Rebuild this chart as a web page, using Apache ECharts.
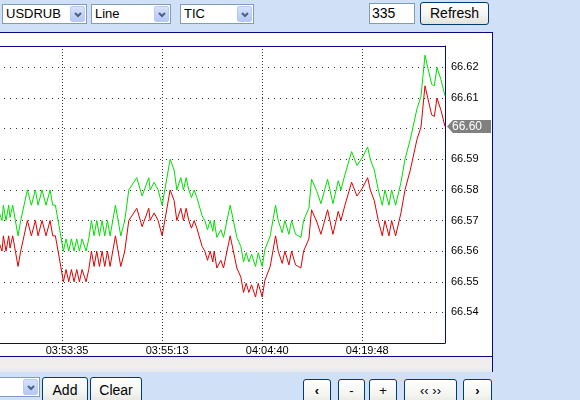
<!DOCTYPE html>
<html>
<head>
<meta charset="utf-8">
<script src="https://cdn.jsdelivr.net/npm/echarts@6/dist/echarts.min.js"></script>
<style>
body{margin:0;width:580px;height:400px;overflow:hidden;background:#cfe0f7;position:relative;font-family:"Liberation Sans",Arial,sans-serif;}
.sel{position:absolute;height:20px;box-sizing:border-box;border:1px solid #7f9db9;background:#fff;font-size:13px;line-height:18px;padding-left:3px;color:#000;}
.sel .arr{position:absolute;right:1px;top:1px;width:15px;height:16px;box-sizing:border-box;border:1px solid #b9cbf5;border-radius:2px;background:linear-gradient(#d6e2fc,#b4c8f6);}
.sel .arr svg{position:absolute;left:3px;top:5px;}
.inp{position:absolute;left:369px;top:3px;width:46px;height:21px;box-sizing:border-box;border:1px solid #7f9db9;background:#fff;font-size:14px;line-height:19px;padding-left:2px;}
.btn{position:absolute;box-sizing:border-box;border:1px solid #003c74;border-radius:3px;background:linear-gradient(#ffffff,#f3f3ef 60%,#e3e2da);font-size:14px;text-align:center;color:#000;}
.panel{position:absolute;left:-8px;top:32px;width:501px;height:325px;box-sizing:border-box;background:#fff;border-top:1px solid #0a0a80;border-right:1px solid #0a0a80;border-bottom:1px solid #0a0a80;}
.strip{position:absolute;left:-8px;top:357px;width:501px;height:15px;box-sizing:border-box;background:linear-gradient(#efebeb,#f0eeee 70%,#e4e8f0);border-right:1px solid #0a0a80;}
#myChart{position:absolute;left:-60px;top:33px;width:551px;height:323px;}
</style>
</head>
<body>
<div class="sel" style="left:2px;top:4px;width:85px;">USDRUB<div class="arr"><svg width="8" height="6"><polyline points="1,1 4,4 7,1" fill="none" stroke="#4d6185" stroke-width="2"/></svg></div></div>
<div class="sel" style="left:91px;top:4px;width:80px;">Line<div class="arr"><svg width="8" height="6"><polyline points="1,1 4,4 7,1" fill="none" stroke="#4d6185" stroke-width="2"/></svg></div></div>
<div class="sel" style="left:180px;top:4px;width:74px;">TIC<div class="arr"><svg width="8" height="6"><polyline points="1,1 4,4 7,1" fill="none" stroke="#4d6185" stroke-width="2"/></svg></div></div>
<div class="inp">335</div>
<div class="btn" style="left:420px;top:2px;width:69px;height:23px;line-height:20px;">Refresh</div>

<div class="panel"></div>
<div class="strip"></div>
<div id="myChart"></div>

<div class="sel" style="left:-45px;top:377px;width:85px;"><div class="arr"><svg width="8" height="6"><polyline points="1,1 4,4 7,1" fill="none" stroke="#4d6185" stroke-width="2"/></svg></div></div>
<div class="btn" style="left:42px;top:377px;width:46px;height:28px;line-height:25px;">Add</div>
<div class="btn" style="left:90px;top:377px;width:52px;height:28px;line-height:25px;">Clear</div>
<div class="btn" style="left:303px;top:379px;width:28px;height:28px;line-height:22px;font-weight:bold;font-size:13px;">&lsaquo;</div>
<div class="btn" style="left:338px;top:379px;width:27px;height:28px;line-height:22px;font-size:13px;">-</div>
<div class="btn" style="left:369px;top:379px;width:28px;height:28px;line-height:22px;font-size:13px;">+</div>
<div class="btn" style="left:404px;top:379px;width:53px;height:28px;line-height:22px;font-size:13px;">&lsaquo;&lsaquo; &rsaquo;&rsaquo;</div>
<div class="btn" style="left:463px;top:379px;width:29px;height:28px;line-height:22px;font-weight:bold;font-size:13px;">&rsaquo;</div>

<script>
// tick number along the x axis (every vertex of the line)
var tickNo = [0,4,10,16,22,28,30,31,33,35,36,38,40,42,44,49,52,55,57,60,63,66,68,70,74,76,78,80,82,84,86,88,90,93,95,97,99,101,103,105,107,109,111,115,119,122,125,131,135,140,141,144,147,150,156,159,161,164,166,168,170,172,174,176,180,182,184,186,188,189,191,194,196,201,206,209,211,213,215,217,220,222,225,227,231,235,237,240,242,245,247,250,254,256,260,262,266,269,274,278,282,284,287,292,296,300,304,306,309,312,315,317,320,322,325,329,332,336,341,344,347,352,354,356,359,362];
// bid (red)
var bid = [66.565,66.56,66.565,66.56,66.565,66.5625,66.56,66.565,66.56,66.565,66.561,66.565,66.56,66.555,66.56,66.57,66.565,66.57,66.565,66.57,66.565,66.57,66.565,66.565,66.555,66.55,66.554,66.55,66.554,66.55,66.554,66.55,66.554,66.55,66.554,66.56,66.555,66.56,66.555,66.56,66.555,66.56,66.555,66.565,66.555,66.56,66.57,66.574,66.568,66.574,66.57,66.5725,66.57,66.565,66.58,66.5765,66.57,66.574,66.57,66.574,66.57,66.5675,66.57,66.5675,66.5615,66.56,66.557,66.56,66.5565,66.56,66.5545,66.557,66.5545,66.565,66.5545,66.5515,66.5465,66.5495,66.5465,66.549,66.545,66.5495,66.545,66.5505,66.555,66.565,66.56,66.556,66.56,66.5555,66.56,66.5555,66.5545,66.56,66.564,66.5735,66.5695,66.5655,66.5735,66.5655,66.573,66.57,66.575,66.5825,66.578,66.5805,66.584,66.58,66.5765,66.57,66.565,66.57,66.565,66.57,66.565,66.5725,66.58,66.5865,66.5965,66.6005,66.614,66.6045,66.604,66.61,66.606,66.6007];
// ask (green)
var ask = [66.575,66.57,66.575,66.57,66.575,66.5725,66.57,66.575,66.57,66.575,66.571,66.575,66.57,66.565,66.57,66.58,66.575,66.58,66.575,66.58,66.575,66.58,66.575,66.575,66.565,66.56,66.564,66.56,66.564,66.56,66.564,66.56,66.564,66.56,66.564,66.57,66.565,66.57,66.565,66.57,66.565,66.57,66.565,66.575,66.565,66.57,66.58,66.584,66.578,66.584,66.58,66.5825,66.58,66.575,66.59,66.5865,66.58,66.584,66.58,66.584,66.58,66.5775,66.58,66.5775,66.5715,66.57,66.567,66.57,66.5665,66.57,66.5645,66.567,66.5645,66.575,66.5645,66.5615,66.5565,66.5595,66.5565,66.559,66.555,66.5595,66.555,66.5605,66.565,66.575,66.57,66.566,66.57,66.5655,66.57,66.5655,66.5645,66.57,66.574,66.5835,66.5795,66.5755,66.5835,66.5755,66.583,66.58,66.585,66.5925,66.588,66.5905,66.594,66.59,66.5865,66.58,66.575,66.58,66.575,66.58,66.575,66.5825,66.59,66.5965,66.6065,66.6105,66.624,66.6145,66.614,66.62,66.616,66.6107];
// x axis labels
var labelTicks = [75,150,225,300];
var timeLabels = ['03:53:35','03:55:13','04:04:40','04:19:48'];

var last = tickNo.length - 1;
var border = {show: true, onZero: false, lineStyle: {color: '#0a0a80', width: 1}};
var myChart = echarts.init(document.getElementById('myChart'));
myChart.setOption({
    animation: false,
    grid: {left: 22, right: 46, top: 13, bottom: 13},
    xAxis: [{
        type: 'value',
        min: 0, max: 362, interval: 75,
        axisLine: border,
        axisTick: {show: false},
        axisLabel: {
            margin: 2, color: '#000', fontSize: 11, fontFamily: 'Liberation Sans',
            padding: [0, 0, 0, 10],
            showMinLabel: false, showMaxLabel: false,
            formatter: function (v) {
                var i = labelTicks.indexOf(Math.round(v));
                return i < 0 ? '' : timeLabels[i];
            }
        },
        splitLine: {show: true, lineStyle: {color: '#333', width: 1, type: [1, 2]}}
    }, {
        // top edge of the plot frame
        type: 'value', position: 'top',
        min: 0, max: 362,
        axisLine: border,
        axisTick: {show: false},
        axisLabel: {show: false},
        splitLine: {show: false}
    }],
    yAxis: {
        type: 'value', position: 'right',
        min: 66.53, max: 66.627, interval: 0.01,
        axisLine: border,
        axisTick: {show: false},
        axisLabel: {
            margin: 6, color: '#000', fontSize: 11, fontFamily: 'Liberation Sans',
            showMinLabel: false, showMaxLabel: false,
            formatter: function (v) { return v.toFixed(2); }
        },
        splitLine: {show: true, lineStyle: {color: '#333', width: 1, type: [1, 5]}}
    },
    series: [
        {
            name: 'ask', type: 'line', showSymbol: false,
            lineStyle: {color: '#00dd00', width: 1},
            data: tickNo.map(function (t, i) { return [t, ask[i]]; })
        },
        {
            name: 'bid', type: 'line', showSymbol: false,
            lineStyle: {color: '#dd0000', width: 1},
            data: tickNo.map(function (t, i) { return [t, bid[i]]; }),
            markPoint: {
                z: 10,
                symbol: 'path://M0,6.5L6,0L46,0L46,13L6,13Z',
                symbolSize: [46, 13],
                symbolKeepAspect: false,
                symbolOffset: [25, 0],
                itemStyle: {color: '#808080'},
                label: {
                    show: true, position: 'inside', color: '#fff',
                    fontSize: 12, fontFamily: 'Liberation Sans', offset: [-3, 0],
                    formatter: function (p) { return p.value.toFixed(2); }
                },
                data: [{coord: [tickNo[last], bid[last]], value: bid[last]}]
            }
        }
    ]
});
</script>
</body>
</html>
